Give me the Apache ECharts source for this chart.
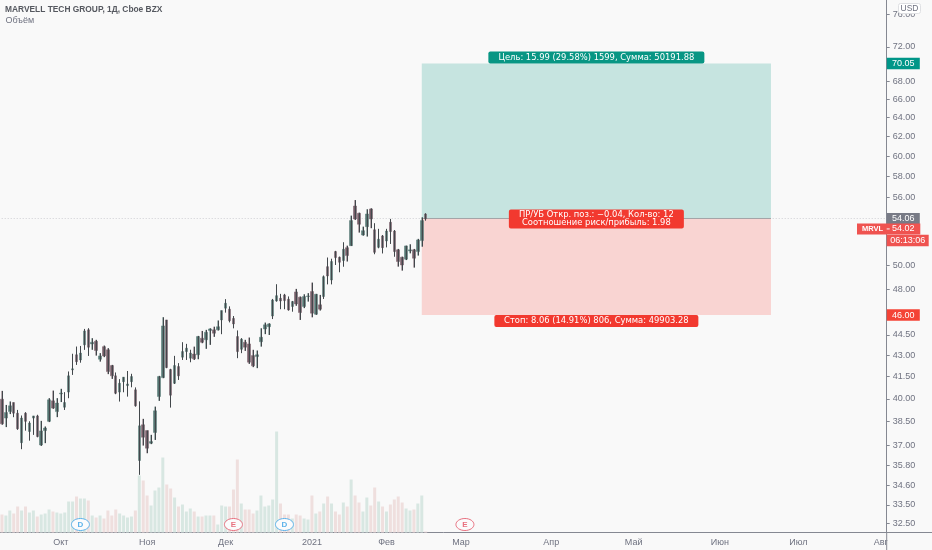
<!DOCTYPE html>
<html>
<head>
<meta charset="utf-8">
<style>html,body{margin:0;padding:0;background:#f9f9f9}#c{width:932px;height:550px}</style>
<script src="https://cdn.jsdelivr.net/npm/echarts@6/dist/echarts.min.js"></script>
</head>
<body>
<div id="c"></div>
<script>
const title = 'MARVELL TECH GROUP, 1Д, Cboe BZX';
const subtitle = 'Объём';
const barSlots = 226;
const opens = [39.97,38.73,39.15,39.75,39.05,37.17,39.05,37.87,38.73,38.87,37.03,37.93,38.52,39.86,39.15,40.33,39.44,40.45,41.98,43.05,42.68,43.77,44.88,43.84,44.03,42.73,43.64,43.41,42.28,41.56,40.45,41.16,40.89,41.16,40.60,36.08,38.30,37.93,37.14,37.81,40.15,41.44,45.63,42.00,41.05,42.21,42.88,43.28,42.81,43.10,43.05,44.26,44.14,44.83,44.88,44.88,45.63,46.54,46.46,45.75,44.38,43.45,43.96,43.84,42.99,42.92,44.00,44.95,45.12,45.93,47.10,47.31,47.58,47.24,46.67,47.82,47.40,46.67,47.45,47.85,46.07,46.80,47.45,49.88,48.78,51.15,50.67,50.39,51.49,51.66,55.20,54.53,52.59,53.33,54.93,53.05,51.52,52.51,52.07,53.72,52.94,51.30,50.67,50.51,51.21,51.30,51.15,52.10,54.47];
const closes = [38.36,39.09,39.53,39.05,38.04,38.73,38.52,38.41,38.87,37.55,37.91,38.09,39.93,39.38,39.71,40.38,39.75,41.56,42.05,42.56,43.17,44.80,43.60,43.96,43.36,42.97,42.97,41.86,41.56,40.37,41.05,41.47,41.00,41.51,39.53,38.23,37.51,36.83,37.24,39.20,41.51,45.18,42.14,40.24,42.28,41.56,43.28,43.53,43.17,42.76,44.38,43.96,44.70,44.95,44.63,45.12,46.35,46.92,45.57,45.33,43.28,44.19,43.60,42.52,42.26,43.05,44.33,45.26,45.33,47.18,47.52,47.10,47.13,46.40,47.05,46.87,46.20,47.45,47.50,46.15,47.63,46.46,49.05,49.11,50.31,50.64,50.25,51.35,50.81,53.87,54.02,53.54,52.97,54.47,54.02,51.09,52.22,51.49,52.94,52.89,51.15,50.31,50.02,51.64,51.30,50.59,52.16,53.87,54.02];
const lows = [38.30,38.15,38.99,38.79,37.98,36.77,37.93,37.30,37.66,37.51,36.97,37.14,38.47,39.33,38.79,39.78,39.26,40.04,41.63,42.33,42.49,43.41,42.97,43.41,42.99,42.56,42.88,41.68,41.35,40.31,39.82,40.44,40.15,40.78,39.48,35.23,36.99,36.52,37.08,37.34,39.86,41.40,42.10,39.42,41.00,41.28,42.68,42.68,42.52,42.68,42.73,43.89,43.48,43.77,44.36,44.83,44.56,46.20,45.45,45.00,42.81,43.17,43.33,42.40,42.17,42.10,43.64,44.56,44.50,45.70,47.05,46.46,46.46,46.35,46.27,46.72,45.63,46.54,47.05,45.83,46.02,46.35,47.26,48.43,48.43,50.02,49.42,49.88,50.31,51.64,53.93,52.80,52.53,52.45,53.19,50.93,51.44,51.00,51.52,51.81,50.72,49.88,49.55,50.43,51.00,49.80,50.81,51.57,53.87];
const highs = [40.53,39.59,39.82,39.75,39.26,38.89,39.11,38.52,38.87,38.94,38.55,38.19,40.04,40.55,40.04,40.67,40.44,41.86,43.12,43.64,43.69,44.95,45.00,44.26,44.14,43.17,43.72,43.53,42.33,41.79,41.33,41.47,41.90,41.70,40.76,39.82,38.68,37.93,37.66,39.48,41.56,45.84,45.63,42.05,42.97,42.45,43.96,43.84,43.41,43.64,44.43,44.80,44.88,45.00,45.12,45.59,46.35,47.24,46.67,45.93,44.83,44.26,44.14,44.31,43.41,43.36,45.00,45.43,45.38,47.26,48.43,47.66,47.66,47.45,47.10,48.06,47.45,47.63,47.72,48.57,47.66,47.58,49.14,50.64,50.54,51.21,50.72,51.95,51.66,54.32,55.75,54.59,53.33,54.90,54.99,53.63,53.13,52.59,53.13,54.02,53.03,51.38,50.72,51.66,51.78,51.38,52.25,54.17,54.53];
const volumes = [9,8.5,11,9.5,13,11,13,10,11,8,9,9.5,11.5,10.5,10,9.5,10,15.5,15.5,18,17,17,16,8.5,7.5,8.5,7,11,8.5,11.5,9.5,8.5,7.5,8,11,28.5,26,18.5,13.5,21,22.5,37.5,24,22,17.5,13,14,10.5,12,10.5,8,8,8.5,8.5,8.5,4,13.5,13,13,21.5,36.5,14.5,11.5,11.5,9.5,11,18.5,13,13.5,16.5,50.5,14.5,9,9,7,9,8.5,7,6.5,18.5,9.5,10.5,14.5,18,14.5,10.5,9,15,13,26.5,18.5,15,10.5,17.5,13.5,22.5,15.5,13,10.5,14,16.5,18,15,12,11,11.5,14.5,18.5,0.5];
const priceTicks = [76,72,68,66,64,62,60,58,56,50,48,44.5,43,41.5,40,38.5,37,35.8,34.6,33.5,32.5];
const monthTickIndex = [15,37,57,79,98,117,140,161,183,203,224];
const monthTickLabel = ['Окт','Ноя','Дек','2021','Фев','Мар','Апр','Май','Июн','Июл','Авг'];
const eventIndex = [20,59,72,118];
const eventLabel = ['D','E','D','E'];
const zoneStart = 107, zoneEnd = 196;
const targetPrice = 70.05, entryPrice = 54.06, stopPrice = 46.00, lastPrice = 54.02;
const targetText = 'Цель: 15.99 (29.58%) 1599, Сумма: 50191.88';
const statsText = 'ПР/УБ Откр. поз.: −0.04, Кол-во: 12\nСоотношение риск/прибыль: 1.98';
const stopText = 'Стоп: 8.06 (14.91%) 806, Сумма: 49903.28';
const countdownText = '06:13:06';

const FONT = '"Liberation Sans", sans-serif';
const WIDE = '"DejaVu Sans", sans-serif';
const GREY = '#6f7280';
const L = -1.3, AX = 886.7, AY = 532.5;
const categories = Array.from({length: barSlots}, (_, i) => String(i));
const candles = opens.map((o, i) => [o, closes[i], lows[i], highs[i]]);
const wicks = opens.map((o, i) => [i, lows[i], highs[i]]);
const isUp = i => closes[i] >= opens[i];
function snap(x){const r=Math.round(x*2);return (r+1)%2===0?r/2:(r+1)/2;}

function tag(cx, cy, w, h, text, color, size, r, fam) {
  return {type:'group', children:[
    {type:'rect', shape:{x:cx-w/2, y:cy-h/2, width:w, height:h, r:r||0}, style:{fill:color}},
    {type:'text', style:{x:cx, y:cy, text, fill:'#fff', font:`${size}px ${fam||FONT}`, align:'center', verticalAlign:'middle', lineHeight:8.5}}
  ]};
}

const chart = echarts.init(document.getElementById('c'));
chart.setOption({
  backgroundColor:'#f9f9f9',
  animation:false,
  grid:{left:L, right:932-AX, top:0, bottom:550-AY, containLabel:false},
  textStyle:{fontFamily:FONT},
  xAxis:{
    type:'category', data:categories, boundaryGap:true,
    axisLine:{lineStyle:{color:'#858892', width:1}},
    axisTick:{alignWithLabel:true, length:2, lineStyle:{color:'#858892'},
      interval:(i)=>monthTickIndex.includes(i)},
    axisLabel:{interval:(i)=>monthTickIndex.includes(i), margin:6, color:GREY, fontSize:9, fontFamily:FONT,
      formatter:(v,i)=>{const k=monthTickIndex.indexOf(i); return k<0?'':monthTickLabel[k];}},
    splitLine:{show:false}
  },
  yAxis:[
    {type:'log', logBase:10, position:'right', min:31.99, max:77.88,
     axisLine:{show:true, onZero:false, lineStyle:{color:'#858892', width:1}},
     axisTick:{show:true, length:3, customValues:priceTicks, lineStyle:{color:'#858892'}},
     axisLabel:{margin:6, color:GREY, fontSize:9, fontFamily:FONT, customValues:priceTicks, formatter:v=>Number(v).toFixed(2)},
     splitLine:{show:false}, minorTick:{show:false}, minorSplitLine:{show:false}},
    {type:'value', min:0, max:266.25, show:false, splitLine:{show:false}}
  ],
  graphic:[
    {type:'line', z:50, shape:{x1:AX,y1:AY,x2:AX,y2:550}, style:{stroke:'#858892',lineWidth:1}},
    {type:'line', z:50, shape:{x1:AX,y1:AY,x2:932,y2:AY}, style:{stroke:'#858892',lineWidth:1}},
    {type:'text', z:60, style:{x:5,y:9.5,text:title,fill:'#55585f',font:`bold 8.4px ${FONT}`,verticalAlign:'middle'}},
    {type:'text', z:60, style:{x:5.5,y:20.5,text:subtitle,fill:'#6f7280',font:`9px ${FONT}`,verticalAlign:'middle'}},
    {type:'rect', z:60, shape:{x:898.5,y:3.5,width:22,height:10,r:2}, style:{fill:'#fff',stroke:'#dfe0e3',lineWidth:1}},
    {type:'text', z:61, style:{x:909.5,y:8.7,text:'USD',fill:'#6f7280',font:`8.5px ${FONT}`,align:'center',verticalAlign:'middle'}}
  ],
  series:[
    {type:'custom', name:'zones', z:1, silent:true, coordinateSystem:'cartesian2d', yAxisIndex:0,
     data:[[zoneStart,zoneEnd,targetPrice,entryPrice],[zoneStart,zoneEnd,entryPrice,stopPrice]],
     encode:{x:[0,1], y:[2,3]},
     renderItem:(p,api)=>{
       const a=api.coord([api.value(0),api.value(2)]), b=api.coord([api.value(1),api.value(3)]);
       return {type:'rect', shape:{x:a[0],y:a[1],width:b[0]-a[0],height:b[1]-a[1]},
         style:{fill:p.dataIndex===0?'#c6e4e0':'#f9d4d2'}};
     }},
    {type:'custom', name:'entry', z:2, silent:true, yAxisIndex:0,
     data:[[0,barSlots-1,entryPrice]], encode:{x:[0,1], y:2},
     renderItem:(p,api)=>{
       const y=api.coord([0,api.value(2)])[1], l=api.coord([zoneStart,api.value(2)])[0], r=api.coord([zoneEnd,api.value(2)])[0];
       return {type:'group', children:[
         {type:'line', shape:{x1:L,y1:y,x2:AX,y2:y}, style:{stroke:'#cfcfd3',lineWidth:1,lineDash:[1,2]}},
         {type:'line', shape:{x1:l,y1:y,x2:r,y2:y}, style:{stroke:'#a3a3a6',lineWidth:1}}
       ]};
     }},
    {type:'bar', name:'Объём', yAxisIndex:1, z:3, barWidth:3, silent:true,
     data:volumes.map((v,i)=>({value:v, itemStyle:{color:isUp(i)?'#d8e7e2':'#efdfde'}}))},
    {type:'candlestick', name:'MRVL', yAxisIndex:0, z:4, barWidth:3, silent:true, data:candles,
     itemStyle:{color:'#557672', color0:'#745c66', borderColor:'#557672', borderColor0:'#745c66', borderWidth:0.5}},
    {type:'custom', name:'wicks', z:5, silent:true, yAxisIndex:0, data:wicks, encode:{x:0,y:[1,2]},
     renderItem:(p,api)=>{
       const a=api.coord([api.value(0),api.value(1)]), b=api.coord([api.value(0),api.value(2)]);
       const x=snap(a[0]);
       return {type:'line', shape:{x1:x,y1:a[1],x2:x,y2:b[1]}, style:{stroke:'#42474b',lineWidth:1}};
     }},
    {type:'custom', name:'events', z:6, silent:true, yAxisIndex:1, data:eventIndex.map(i=>[i,4]), encode:{x:0,y:1},
     renderItem:(p,api)=>{
       const c=api.coord([api.value(0),api.value(1)]);
       const col=eventLabel[p.dataIndex]==='D'?'#5db2ea':'#e8707f';
       return {type:'group', children:[
         {type:'ellipse', shape:{cx:c[0],cy:c[1],rx:9,ry:6}, style:{fill:'#fbfbfc',stroke:col,lineWidth:1}},
         {type:'text', style:{x:c[0],y:c[1],text:eventLabel[p.dataIndex],fill:col,font:`bold 8px ${FONT}`,align:'center',verticalAlign:'middle'}}
       ]};
     }},
    {type:'custom', name:'zoneTags', z:7, silent:true, yAxisIndex:0,
     data:[[zoneStart,zoneEnd,targetPrice],[zoneStart,zoneEnd,entryPrice],[zoneStart,zoneEnd,stopPrice]],
     encode:{x:[0,1], y:2},
     renderItem:(p,api)=>{
       const cx=(api.coord([api.value(0),api.value(2)])[0]+api.coord([api.value(1),api.value(2)])[0])/2;
       const y=api.coord([api.value(0),api.value(2)])[1];
       if(p.dataIndex===0) return tag(cx,y-6,216,12,targetText,'#089684',8.4,2,WIDE);
       if(p.dataIndex===1) return tag(cx,y+.5,175,19,statsText,'#f2392f',8.4,2,WIDE);
       return tag(cx,y+6,204,12,stopText,'#f2392f',8.4,2,WIDE);
     }},
    {type:'custom', name:'priceTags', z:8, silent:true, yAxisIndex:0,
     data:[[0,targetPrice],[0,entryPrice],[0,lastPrice],[0,stopPrice]], encode:{x:0,y:1},
     renderItem:(p,api)=>{
       const y=api.coord([0,api.value(1)])[1], v=api.value(1).toFixed(2), X=AX+16.6;
       if(p.dataIndex===0) return tag(X,y,33,11.5,v,'#009688',9);
       if(p.dataIndex===1) return tag(X,y,33,11,v,'#787b86',9);
       if(p.dataIndex===3) return tag(X,y,33,11.5,v,'#f44336',9);
       return {type:'group', children:[
         {type:'rect', shape:{x:857,y:y+4.5,width:63.3,height:11}, style:{fill:'#ef5350'}},
         {type:'text', style:{x:872.5,y:y+10,text:'MRVL',fill:'#fff',font:`bold 7.5px ${FONT}`,align:'center',verticalAlign:'middle'}},
         {type:'text', style:{x:X,y:y+10,text:v,fill:'#fff',font:`9px ${FONT}`,align:'center',verticalAlign:'middle'}},
         {type:'line', shape:{x1:AX,y1:y+10,x2:AX+3,y2:y+10}, style:{stroke:'#f9f9f9',lineWidth:1}},
         tag(AX+21,y+21.5,42,11.5,countdownText,'#ef5350',9)
       ]};
     }}
  ]
});
</script>
</body>
</html>
